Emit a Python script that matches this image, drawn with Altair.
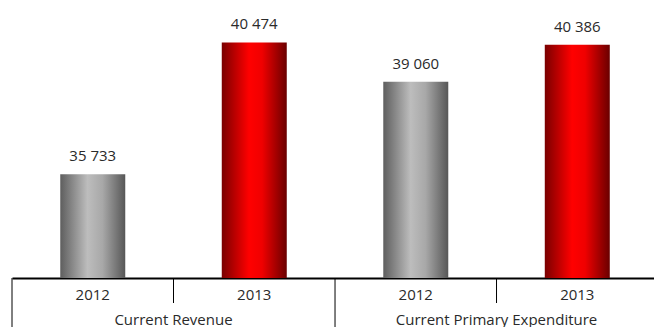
import altair as alt
import pandas as pd

groups = ["Current Revenue", "Current Revenue",
          "Current Primary Expenditure", "Current Primary Expenditure"]
years = ["2012", "2013", "2012", "2013"]
values = [35733, 40474, 39060, 40386]

group_names = ["Current Revenue", "Current Primary Expenditure"]

bars = pd.DataFrame({
    "group": groups,
    "year": years,
    "value": values,
    "pos": [i + 0.5 for i in range(len(values))],
})
group_df = pd.DataFrame({"group": group_names,
                         "pos": [2 * i + 1 for i in range(len(group_names))]})
year_sep = pd.DataFrame({"pos": [2 * i + 1 for i in range(len(group_names))]})
group_sep = pd.DataFrame({"pos": [2 * i for i in range(len(group_names) + 1)]})

FONT = "Open Sans"
TXT = "#2a2a2a"
YMIN = 32000
xscale = alt.Scale(domain=[0, 3.975], nice=False, zero=False, padding=0)
yscale = alt.Scale(domain=[YMIN, 42000], nice=False, zero=False)

gray = alt.Gradient(
    gradient="linear", x1=0, x2=1, y1=0, y2=0,
    stops=[alt.GradientStop(color="#5e5e5e", offset=0),
           alt.GradientStop(color="#bdbdbd", offset=0.42),
           alt.GradientStop(color="#a8a8a8", offset=0.65),
           alt.GradientStop(color="#575757", offset=1)])
red = alt.Gradient(
    gradient="linear", x1=0, x2=1, y1=0, y2=0,
    stops=[alt.GradientStop(color="#7a0000", offset=0),
           alt.GradientStop(color="#ff0000", offset=0.42),
           alt.GradientStop(color="#f00000", offset=0.62),
           alt.GradientStop(color="#6a0000", offset=1)])

base = alt.Chart(bars).encode(
    x=alt.X("pos:Q", scale=xscale,
            axis=alt.Axis(domain=True, domainColor="black", domainWidth=2,
                          ticks=False, labels=False, grid=False, title=None)),
)

bar12 = base.transform_filter("datum.year == '2012'").mark_bar(size=65, color=gray).encode(
    y=alt.Y("value:Q", scale=yscale, axis=None), y2=alt.datum(YMIN))
bar13 = base.transform_filter("datum.year == '2013'").mark_bar(size=65, color=red).encode(
    y=alt.Y("value:Q", scale=yscale, axis=None), y2=alt.datum(YMIN))

vlabels = base.transform_calculate(
    lab="replace(format(datum.value, ','), ',', ' ')"
).mark_text(font=FONT, fontSize=15, color=TXT, baseline="alphabetic", dy=-13).encode(
    y=alt.Y("value:Q", scale=yscale, axis=None),
    text="lab:N")

ylabels = base.mark_text(font=FONT, fontSize=15, color=TXT, baseline="alphabetic").encode(
    y=alt.value(300), text="year:N")

glabels = alt.Chart(group_df).mark_text(font=FONT, fontSize=15, color=TXT,
                                         baseline="alphabetic").encode(
    x=alt.X("pos:Q", scale=xscale), y=alt.value(325), text="group:N")

ysep = alt.Chart(year_sep).mark_rule(color="black", strokeWidth=1).encode(
    x=alt.X("pos:Q", scale=xscale), y=alt.value(278), y2=alt.value(303))
gsep = alt.Chart(group_sep).mark_rule(color="black", strokeWidth=1).encode(
    x=alt.X("pos:Q", scale=xscale), y=alt.value(278), y2=alt.value(327))

chart = alt.layer(bar12, bar13, vlabels, ylabels, glabels, ysep, gsep).properties(
    width=642, height=278,
    autosize=alt.AutoSizeParams(type="none"),
    padding={"left": 12, "top": 0, "right": 0, "bottom": 49},
    background="white",
).configure_view(stroke=None)

chart.save("out.html", embed_options={"renderer": "svg", "actions": False})
